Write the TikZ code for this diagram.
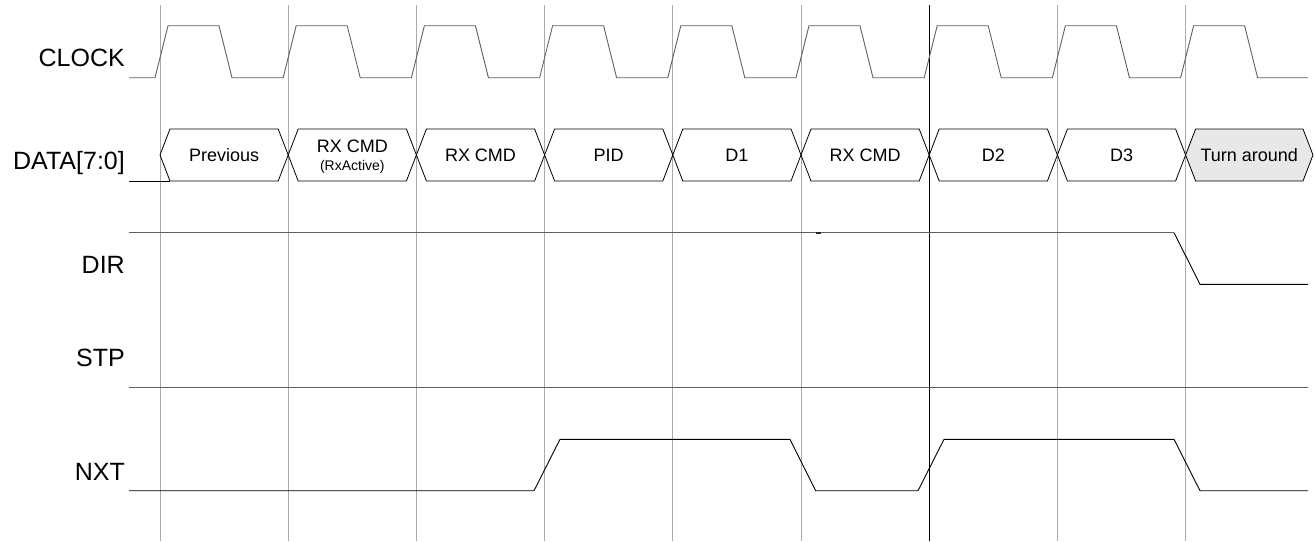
\documentclass[tikz,border=0pt]{standalone}
\usepackage{fontspec}
\setmainfont{Liberation Sans}
\usepackage{tikz}
\usetikzlibrary{calc}
\usepackage{xcolor}
\definecolor{gridgray}{RGB}{170,170,170}
\definecolor{wavegray}{RGB}{95,95,95}
\definecolor{turnfill}{RGB}{232,232,232}

\begin{document}
\begin{tikzpicture}[x=1pt,y=-1pt,
  siglabel/.style={anchor=base east, inner sep=0pt, font=\fontsize{25}{28}\selectfont},
  celltext/.style={inner sep=0pt, font=\fontsize{18}{20}\selectfont},
  subtext/.style={inner sep=0pt, font=\fontsize{14}{16}\selectfont},
  wave/.style={line width=0.9pt, wavegray},
  bus/.style={line width=0.8pt, black},
  gridline/.style={line width=0.9pt, gridgray}]
  \useasboundingbox (0,0) rectangle (1315,541);
  % time grid
  \foreach \i in {0,...,8}
    \draw[gridline] ({160+128.2*\i},5) -- ({160+128.2*\i},541);
  \draw[line width=0.9pt, black] (929.2,5) -- (929.2,541);
  % signal names
  \node[siglabel] (clk) at (125,66.7) {CLOCK};
  \node[siglabel] (data) at (125,169) {DATA[7:0]};
  \node[siglabel] (dir) at (125,273.3) {DIR};
  \node[siglabel] (stp) at (125,366.7) {STP};
  \node[siglabel] (nxt) at (125,480) {NXT};
  % clock
  \draw[wave] (129,77.7) \foreach \i in {0,...,8} {
    -- ({160+128.2*\i-5},77.7) -- ({160+128.2*\i+8},25.7)
    -- ({160+128.2*\i+59},25.7) -- ({160+128.2*\i+72},77.7)} -- (1308,77.7);
  % data bus
  \draw[bus] (129,181) -- (170,181);
  \foreach \i in {0,...,7}
    \draw[bus] ({160+128.2*\i},155) -- ({160+128.2*\i+10},129)
      -- ({160+128.2*(\i+1)-10},129) -- ({160+128.2*(\i+1)},155)
      -- ({160+128.2*(\i+1)-10},181) -- ({160+128.2*\i+10},181) -- cycle;
  \draw[bus, fill=turnfill] (1185.6,155) -- (1195.6,129) -- (1303,129) -- (1313,155)
    -- (1303,181) -- (1195.6,181) -- cycle;
  \node[celltext] (prev) at (224.1,155) {Previous};
  \node[celltext] (rxa) at (352.3,146.3) {RX CMD};
  \node[subtext] (rxasub) at (352.3,166.5) {(RxActive)};
  \node[celltext] (rxb) at (480.5,155) {RX CMD};
  \node[celltext] (pid) at (608.7,155) {PID};
  \node[celltext] (dfirst) at (736.9,155) {D1};
  \node[celltext] (rxc) at (865.1,155) {RX CMD};
  \node[celltext] (dsecond) at (993.3,155) {D2};
  \node[celltext] (dthird) at (1121.5,155) {D3};
  \node[celltext] (turn) at (1249.3,155) {Turn around};
  % DIR
  \draw[wave] (129,232.7) -- (1174,232.7);
  \draw[line width=0.9pt, black] (1174,232.7) -- (1200,284.3) -- (1308,284.3);
  \draw[line width=1.5pt, black!85] (815.7,233) -- (821,233);
  % STP
  \draw[wave] (129,387.7) -- (1308,387.7);
  % NXT
  \draw[line width=0.9pt, black] (129,490.7) -- (534,490.7) -- (560,439.3) -- (790,439.3)
    -- (815.7,490.7) -- (918,490.7) -- (944,439.3) -- (1174,439.3)
    -- (1200,490.7) -- (1308,490.7);
\end{tikzpicture}
\end{document}
